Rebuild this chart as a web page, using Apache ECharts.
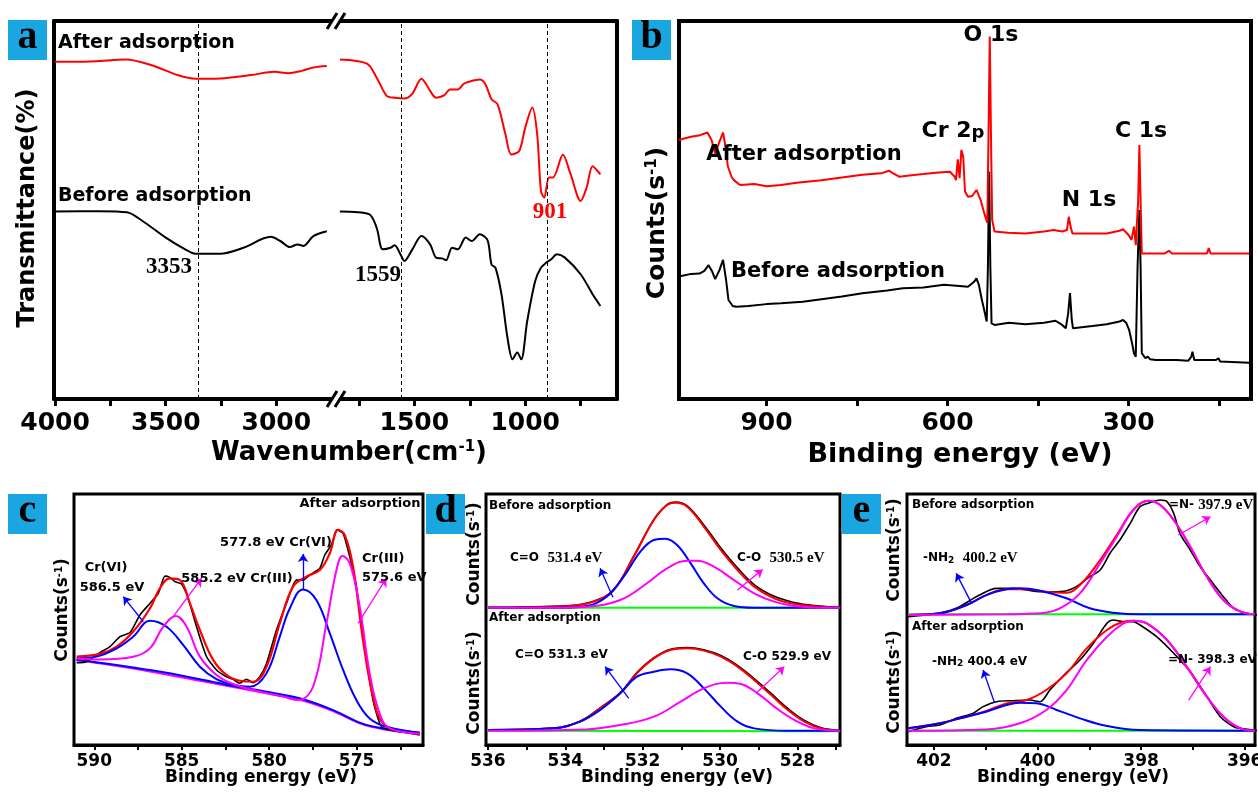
<!DOCTYPE html>
<html>
<head>
<meta charset="utf-8">
<title>FTIR / XPS</title>
<script src="https://cdn.jsdelivr.net/npm/echarts@6/dist/echarts.min.js"></script>
<style>
  html, body { margin: 0; padding: 0; background: #fff; }
  #chart { width: 1258px; height: 792px; }
</style>
</head>
<body>
<div id="chart"></div>
<script>
// ---- data ----
// (a) FTIR, [wavenumber, transmittance (arb.)], split at the axis break
const ftirAfterHigh = [[4000, 89.2], [3886, 89.2], [3675, 89.8], [3605, 89.0], [3535, 87.7], [3447, 85.7], [3365, 84.7], [3254, 84.8], [3114, 85.7], [3009, 86.6], [2947, 86.2], [2886, 86.8], [2833, 87.7], [2772, 88.1]]
const ftirBeforeHigh = [[4000, 49.6], [3798, 49.7], [3675, 49.4], [3605, 47.1], [3500, 42.7], [3412, 39.6], [3365, 38.4], [3254, 38.4], [3149, 40.0], [3026, 42.9], [2982, 41.8], [2939, 40.2], [2904, 40.9], [2877, 40.5], [2833, 43.1], [2772, 44.4]]
const ftirAfterLow = [[1836, 89.8], [1714, 88.7], [1670, 85.0], [1625, 80.2], [1589, 79.7], [1545, 79.5], [1509, 80.8], [1468, 84.7], [1446, 83.2], [1429, 81.5], [1402, 79.7], [1366, 80.3], [1339, 81.9], [1304, 81.9], [1277, 83.4], [1250, 84.0], [1205, 84.5], [1179, 83.2], [1152, 79.3], [1125, 78.0], [1089, 70.0], [1063, 64.7], [1027, 65.6], [1000, 71.8], [968, 77.1], [946, 70.0], [929, 55.0], [914, 53.3], [893, 58.6], [875, 58.6], [830, 64.6], [795, 59.4], [750, 52.4], [723, 55.9], [696, 61.6], [661, 59.4]]
const ftirBeforeLow = [[1836, 49.6], [1705, 48.9], [1670, 45.3], [1643, 39.6], [1607, 40.0], [1589, 40.7], [1563, 38.3], [1545, 36.5], [1509, 39.6], [1468, 43.1], [1429, 40.9], [1402, 37.4], [1375, 37.2], [1357, 36.7], [1330, 40.0], [1304, 39.6], [1268, 42.7], [1241, 41.8], [1205, 43.6], [1170, 42.0], [1152, 35.6], [1134, 34.7], [1107, 27.7], [1080, 16.2], [1057, 10.5], [1036, 12.3], [1018, 10.5], [991, 20.6], [955, 31.2], [929, 34.7], [905, 36.1], [884, 36.9], [857, 38.3], [821, 37.4], [750, 33.0], [696, 27.7], [661, 24.6]]
const ftirMarks = [3353, 1559, 901]
const ftirTicksHigh = [3000, 3250, 3500, 3750, 4000]
const ftirLabelsHigh = [3000, 3500, 4000]
const ftirTicksLow = [750, 1000, 1250, 1500, 1750]
const ftirLabelsLow = [1000, 1500]

// (b) XPS survey, [binding energy, counts (arb.)]
const surveyAfter = [[1045, 68.5], [1035, 69.0], [1025, 69.4], [1010, 69.8], [998, 70.5], [991, 68.5], [985, 64.8], [979, 67.6], [972, 70.5], [968, 66.8], [964, 61.5], [958, 58.8], [954, 57.9], [944, 56.6], [920, 56.9], [900, 56.3], [876, 56.6], [850, 57.2], [809, 57.9], [775, 58.6], [741, 59.3], [710, 59.7], [697, 60.4], [690, 59.7], [680, 58.8], [660, 59.2], [640, 59.5], [615, 59.9], [596, 60.1], [588, 58.8], [586, 57.9], [583, 63.4], [580, 58.4], [577, 65.9], [574, 64.1], [571, 54.9], [566, 53.5], [559, 53.7], [552, 55.3], [545, 52.6], [539, 49.1], [534, 46.6], [532, 70.3], [530, 95.9], [528, 70.3], [526, 47.4], [522, 44.3], [500, 44.0], [471, 43.8], [440, 44.3], [424, 44.7], [410, 44.3], [402, 44.7], [399, 48.2], [396, 45.6], [393, 43.8], [360, 43.8], [336, 43.8], [315, 44.5], [309, 44.9], [300, 43.4], [295, 42.1], [291, 45.6], [288, 40.7], [284, 52.6], [282, 67.2], [280, 52.6], [278, 38.5], [269, 38.5], [240, 38.5], [233, 39.2], [228, 38.5], [170, 38.5], [167, 39.9], [164, 38.5], [100, 38.5]]
const surveyBefore = [[1045, 32.4], [1025, 33.1], [1011, 33.2], [1003, 33.9], [996, 35.4], [990, 33.7], [985, 31.7], [978, 34.1], [972, 36.8], [967, 31.5], [963, 26.2], [956, 24.6], [950, 24.4], [930, 24.6], [900, 25.1], [876, 25.3], [840, 25.7], [809, 26.4], [775, 27.1], [741, 28.0], [700, 28.7], [674, 29.3], [640, 29.5], [606, 30.2], [580, 29.9], [566, 29.7], [556, 31.0], [552, 31.9], [548, 30.2], [543, 26.2], [538, 22.7], [535, 20.5], [533, 35.0], [531, 60.1], [529, 35.0], [527, 20.0], [522, 19.6], [498, 20.2], [471, 19.8], [440, 20.2], [421, 20.7], [410, 19.6], [404, 18.7], [400, 22.7], [397, 28.0], [394, 20.9], [392, 18.7], [360, 19.3], [336, 19.8], [315, 20.5], [309, 20.9], [304, 20.2], [299, 18.3], [294, 14.7], [291, 12.1], [288, 11.2], [285, 35.0], [282, 50.0], [280, 35.0], [278, 12.1], [272, 10.8], [268, 11.2], [264, 10.5], [255, 10.3], [220, 10.3], [201, 10.1], [196, 11.2], [194, 12.5], [191, 10.3], [188, 9.9], [155, 10.3], [151, 10.8], [148, 9.9], [100, 9.6]]
const surveyTicks = [150, 300, 450, 600, 750, 900]
const surveyLabels = [300, 600, 900]

// (c) Cr 2p after adsorption
const cr2pRaw = [[591.01, 32.8], [590.44, 33.2], [589.68, 36.8], [589.10, 39.2], [588.53, 43.2], [587.96, 44.8], [587.39, 51.8], [586.82, 56.4], [586.34, 60.4], [585.96, 67.3], [585.68, 66.8], [585.39, 65.1], [585.01, 64.1], [584.63, 58.4], [584.15, 47.1], [583.58, 35.2], [583.01, 29.9], [582.44, 27.2], [582.06, 26.2], [581.68, 24.6], [581.30, 26.2], [580.91, 24.8], [580.53, 27.2], [580.15, 32.5], [579.58, 45.8], [579.01, 56.4], [578.44, 65.7], [578.06, 65.7], [577.68, 67.7], [577.10, 70.4], [576.82, 75.7], [576.44, 79.7], [576.11, 85.7], [575.77, 84.3], [575.39, 75.0], [575.01, 63.1], [574.63, 43.2], [574.06, 17.9], [573.58, 7.3], [572.91, 5.7], [572.15, 4.9], [571.39, 4.0]]
const cr2pFit = [[591.01, 35.2], [589.68, 36.3], [588.72, 39.2], [587.77, 45.2], [586.82, 54.4], [586.25, 62.4], [585.68, 66.4], [585.10, 65.7], [584.53, 56.4], [583.96, 45.8], [583.20, 33.9], [582.44, 27.9], [581.68, 25.6], [580.91, 25.2], [580.15, 31.2], [579.39, 48.5], [578.63, 63.1], [577.87, 67.1], [577.10, 69.7], [576.53, 76.4], [576.06, 85.7], [575.68, 83.7], [575.20, 71.0], [574.63, 41.8], [574.06, 19.3], [573.49, 8.6], [572.53, 5.7], [571.39, 4.4]]
const cr2pCr6 = [[591.01, 34.5], [589.87, 35.2], [588.72, 38.5], [587.77, 43.2], [586.82, 49.5], [585.87, 47.1], [584.91, 39.8], [583.96, 31.2], [583.01, 26.2], [582.06, 23.9], [581.10, 23.2], [580.15, 28.6], [579.39, 43.2], [578.82, 54.4], [578.06, 62.0], [577.30, 57.8], [576.53, 44.5], [575.77, 29.9], [575.01, 17.9], [574.25, 10.6], [573.30, 7.3], [571.39, 4.9]]
const cr2pCr3 = [[591.01, 34.5], [589.68, 34.1], [587.77, 35.2], [586.82, 38.5], [586.06, 47.1], [585.33, 51.4], [584.72, 47.1], [583.96, 35.2], [583.01, 27.9], [582.06, 24.3], [580.91, 21.9], [579.20, 19.3], [578.34, 17.9], [577.49, 23.2], [576.72, 48.5], [576.15, 69.7], [575.81, 75.3], [575.39, 72.4], [574.82, 55.1], [574.25, 28.6], [573.68, 12.6], [573.10, 6.6], [571.39, 4.6]]
const cr2pBgBlue = [[591.01, 33.9], [589.68, 32.8], [587.77, 30.9], [585.87, 28.8], [583.96, 26.2], [582.06, 23.5], [580.15, 21.2], [578.25, 18.6], [576.34, 13.9], [574.82, 8.9], [573.49, 6.6], [571.39, 4.9]]
const cr2pBgPink = [[591.01, 33.9], [587.77, 30.5], [583.96, 25.6], [580.15, 20.6], [578.25, 18.0], [576.34, 13.5], [574.82, 8.6], [573.49, 6.3], [571.39, 4.6]]
const cr2pTicks = [572.5, 575, 577.5, 580, 582.5, 585, 587.5, 590]
const cr2pLabels = [575, 580, 585, 590]
// arrows [[from], [to]]
const cr2pArrowsBlue = [[[587.2, 49.1], [588.34, 59.1]], [[578.06, 62.0], [578.06, 76.1]]]
const cr2pArrowsPink = [[[585.49, 51.1], [583.87, 66.4]], [[574.91, 48.5], [573.30, 66.4]]]

// (d) O 1s
const o1sBeforeBg = [[536, 8.3], [526.9, 8.3]]
const o1sBeforeRaw = [[536, 8.6], [533.88, 10.0], [533.27, 13.5], [532.75, 23.0], [532.23, 50.0], [531.71, 79.5], [531.37, 91.5], [531.15, 93.5], [530.85, 90.5], [530.42, 75.0], [529.98, 56.5], [529.55, 40.5], [529.12, 27.0], [528.60, 17.5], [528.08, 12.5], [527.56, 10.0], [526.91, 8.6]]
const o1sBeforeFit = [[536, 8.3], [533.88, 9.7], [533.27, 13.2], [532.75, 22.6], [532.23, 49.5], [531.71, 79.0], [531.37, 91.1], [531.15, 93.0], [530.85, 89.8], [530.42, 73.7], [529.98, 54.8], [529.55, 38.7], [529.12, 25.3], [528.60, 15.9], [528.08, 11.3], [527.39, 9.1], [526.91, 8.3]]
const o1sBeforeCdO = [[536, 8.3], [534.14, 8.3], [533.45, 9.7], [532.93, 17.2], [532.49, 33.3], [532.06, 53.5], [531.71, 62.9], [531.41, 64.0], [531.11, 58.9], [530.76, 44.1], [530.42, 28.0], [530.07, 15.9], [529.64, 9.7], [529.12, 8.3], [526.91, 8.3]]
const o1sBeforeCO = [[536, 8.3], [534.31, 8.3], [533.45, 9.1], [532.58, 14.5], [531.89, 28.0], [531.37, 40.1], [530.85, 46.2], [530.59, 46.2], [530.16, 41.4], [529.64, 30.6], [529.12, 19.9], [528.60, 13.2], [528.08, 9.7], [527.39, 8.3], [526.91, 8.3]]
const o1sAfterBg = [[536, 11.3], [526.9, 10.8]]
const o1sAfterRaw = [[536, 11.8], [534.31, 13.3], [533.62, 18.8], [533.10, 29.3], [532.58, 41.2], [532.15, 57.0], [531.71, 68.7], [531.28, 75.4], [530.85, 76.8], [530.42, 75.0], [529.98, 70.4], [529.55, 62.7], [529.12, 52.3], [528.68, 40.6], [528.25, 28.8], [527.82, 19.3], [527.39, 13.6], [526.91, 11.6]]
const o1sAfterFit = [[536, 11.8], [534.31, 13.1], [533.62, 18.4], [533.10, 28.9], [532.58, 40.7], [532.15, 56.4], [531.71, 68.2], [531.28, 74.8], [530.85, 76.1], [530.42, 74.3], [529.98, 69.6], [529.55, 61.7], [529.12, 51.2], [528.68, 39.4], [528.25, 27.6], [527.82, 18.4], [527.39, 13.1], [526.91, 11.3]]
const o1sAfterCdO = [[536, 11.8], [534.31, 13.1], [533.62, 18.4], [533.10, 27.6], [532.58, 40.7], [532.15, 53.8], [531.71, 57.7], [531.28, 59.6], [530.85, 56.4], [530.42, 44.6], [529.98, 30.2], [529.55, 18.4], [529.12, 13.1], [528.25, 11.3], [526.91, 11.3]]
const o1sAfterCO = [[536, 11.3], [533.45, 12.3], [532.58, 15.7], [531.71, 22.3], [531.02, 34.1], [530.42, 44.6], [529.81, 49.1], [529.46, 48.0], [529.03, 40.7], [528.60, 30.2], [528.08, 19.7], [527.56, 13.1], [526.91, 11.3]]
const o1sTicks = [527, 528, 529, 530, 531, 532, 533, 534, 535, 536]
const o1sLabels = [528, 530, 532, 534, 536]
const o1sBeforeArrowBlue = [[532.77, 16.7], [533.10, 40.1]]
const o1sBeforeArrowPink = [[529.55, 22.6], [528.90, 39.2]]
const o1sAfterArrowBlue = [[532.36, 36.7], [532.97, 61.7]]
const o1sAfterArrowPink = [[529.07, 40.7], [528.34, 61.7]]

// (e) N 1s
const n1sBeforeBg = [[402.5, 3.0], [395.8, 3.0]]
const n1sBeforeRaw = [[402.50, 1.1], [401.89, 3.8], [401.57, 7.8], [401.12, 18.5], [400.79, 23.9], [400.47, 23.9], [400.21, 22.6], [399.95, 21.2], [399.70, 21.2], [399.44, 22.0], [399.25, 25.3], [398.99, 33.3], [398.79, 38.7], [398.60, 52.2], [398.41, 62.9], [398.21, 76.3], [398.02, 89.8], [397.83, 93.0], [397.63, 95.2], [397.50, 93.8], [397.37, 84.4], [397.25, 68.3], [397.05, 54.8], [396.86, 41.4], [396.66, 30.6], [396.41, 17.2], [396.21, 7.8], [395.95, 3.8], [395.73, 2.4]]
const n1sBeforeFit = [[402.50, 2.4], [401.89, 3.8], [401.37, 10.5], [400.99, 18.5], [400.60, 23.1], [400.21, 23.1], [399.83, 21.2], [399.44, 20.4], [399.18, 26.6], [398.79, 46.8], [398.47, 66.9], [398.15, 87.1], [397.86, 94.6], [397.63, 91.1], [397.37, 79.0], [397.05, 57.5], [396.73, 33.3], [396.41, 14.5], [396.08, 5.1], [395.8, 3.0]]
const n1sBeforeNH2 = [[402.50, 2.4], [401.89, 3.8], [401.37, 10.5], [400.99, 18.5], [400.60, 23.1], [400.34, 23.9], [399.95, 22.0], [399.44, 15.9], [398.99, 7.8], [398.54, 4.3], [398.02, 3.0], [395.8, 3.0]]
const n1sBeforeN = [[402.50, 2.4], [400.60, 3.0], [399.95, 3.8], [399.57, 7.8], [399.18, 19.9], [398.79, 44.1], [398.47, 65.6], [398.15, 87.1], [397.86, 94.6], [397.63, 91.1], [397.37, 79.0], [397.05, 57.5], [396.73, 33.3], [396.41, 14.5], [396.08, 5.1], [395.8, 3.0]]
const n1sAfterBg = [[402.5, 11.3], [395.8, 11.3]]
const n1sAfterRaw = [[402.50, 10.5], [402.15, 14.4], [401.89, 15.7], [401.57, 21.0], [401.25, 24.9], [401.05, 30.2], [400.79, 34.1], [400.47, 34.9], [400.15, 35.4], [399.95, 34.1], [399.76, 43.3], [399.44, 57.0], [399.18, 66.9], [398.92, 80.1], [398.66, 95.8], [398.54, 98.4], [398.34, 97.1], [398.15, 97.1], [398.02, 94.5], [397.70, 85.3], [397.37, 72.2], [397.05, 57.7], [396.73, 38.1], [396.47, 22.3], [396.21, 14.4], [396.08, 13.1], [395.73, 11.3]]
const n1sAfterFit = [[402.50, 13.1], [401.89, 17.1], [401.37, 22.3], [400.99, 26.8], [400.60, 32.8], [400.21, 35.4], [399.83, 43.3], [399.44, 56.4], [399.05, 76.1], [398.66, 90.6], [398.34, 97.1], [398.15, 97.9], [397.89, 95.8], [397.50, 82.7], [397.12, 61.7], [396.73, 38.1], [396.41, 22.3], [396.08, 13.1], [395.8, 11.3]]
const n1sAfterNH2 = [[402.50, 13.1], [401.89, 17.1], [401.37, 22.3], [400.99, 26.2], [400.60, 31.5], [400.34, 33.3], [400.02, 32.8], [399.63, 27.6], [399.18, 21.0], [398.66, 15.0], [398.02, 11.8], [395.8, 11.3]]
const n1sAfterN = [[402.50, 11.3], [400.99, 12.3], [400.34, 17.1], [399.83, 27.6], [399.44, 43.3], [399.05, 66.9], [398.66, 85.3], [398.34, 95.8], [398.15, 97.9], [397.89, 95.8], [397.50, 82.7], [397.12, 61.7], [396.73, 38.1], [396.41, 22.3], [396.08, 13.1], [395.8, 11.3]]
const n1sTicks = [396, 397, 398, 399, 400, 401, 402]
const n1sLabels = [396, 398, 400, 402]
const n1sBeforeArrowBlue = [[401.28, 12.4], [401.57, 36.0]]
const n1sBeforeArrowPink = [[397.28, 66.9], [396.66, 81.7]]
const n1sAfterArrowBlue = [[400.83, 33.3], [401.05, 59.1]]
const n1sAfterArrowPink = [[397.08, 35.4], [396.66, 61.7]]

// ---- styling helpers ----
const SANS = '"DejaVu Sans", Arial, sans-serif'
const SERIF = '"Liberation Serif", "Times New Roman", serif'
const BLUE = '#0000FF', PINK = '#FF00FF', RED = '#FF0000', GREEN = '#00FF00', BLACK = '#000000'
const TAG = '#1AA6E0'

const chart = echarts.init(document.getElementById('chart'))

function grid(left, top, width, height, border) {
    return {
        left, top, width, height, containLabel: false, outerBoundsMode: 'none',
        show: !!border, borderColor: '#000', borderWidth: border || 0, backgroundColor: 'transparent'
    }
}

function xBottom(gridIndex, min, max, ticks, labels, big) {
    return {
        type: 'value', gridIndex, min, max, inverse: true, position: 'bottom',
        axisLine: { show: true, onZero: false, lineStyle: { color: '#000', width: big ? 4 : 3 } },
        axisTick: { show: true, inside: false, length: big ? 7 : 5, customValues: ticks, lineStyle: { color: '#000', width: big ? 3 : 2 } },
        axisLabel: {
            show: true, customValues: labels, margin: big ? 12 : 8, color: '#000', fontFamily: SANS, fontWeight: 'bold', fontSize: big ? 25 : 17,
            formatter: v => String(v)
        },
        splitLine: { show: false }
    }
}

function xTopLine(gridIndex, min, max) {
    return {
        type: 'value', gridIndex, min, max, inverse: true, position: 'top',
        axisLine: { show: true, onZero: false, lineStyle: { color: '#000', width: 4 } },
        axisTick: { show: false }, axisLabel: { show: false }, splitLine: { show: false }
    }
}

function xHidden(gridIndex, min, max) {
    return { type: 'value', gridIndex, min, max, inverse: true, show: false, splitLine: { show: false } }
}

function yAxis(gridIndex, side) {
    return {
        type: 'value', gridIndex, min: 0, max: 100, position: side || 'left', show: !!side,
        axisLine: { show: !!side, onZero: false, lineStyle: { color: '#000', width: 4 } },
        axisTick: { show: false }, axisLabel: { show: false }, splitLine: { show: false }
    }
}

function curve(xi, yi, data, color, width, smooth, extra) {
    return Object.assign({
        type: 'line', xAxisIndex: xi, yAxisIndex: yi, data, symbol: 'none', showSymbol: false,
        smooth: smooth, silent: true, animation: false, clip: true,
        lineStyle: { color, width }, itemStyle: { color }
    }, extra || {})
}

function arrows(list, color) {
    return {
        silent: true, animation: false, symbol: ['none', 'arrow'], symbolSize: 8,
        label: { show: false }, lineStyle: { color, width: 1.3, type: 'solid' },
        data: list.map(a => [{ coord: a[0] }, { coord: a[1] }])
    }
}

function dashes(values) {
    return {
        silent: true, animation: false, symbol: 'none', label: { show: false },
        lineStyle: { color: '#000', width: 1, type: [4, 3] },
        data: values.map(v => ({ xAxis: v }))
    }
}

function txt(x, y, text, size, opts) {
    opts = opts || {}
    return {
        type: 'text', x, y, z: 100, silent: true, rotation: opts.rot || 0,
        style: {
            text, fill: opts.color || '#000', align: opts.align || 'left', verticalAlign: 'middle',
            fontFamily: opts.family || SANS, fontWeight: 'bold', fontSize: size, rich: opts.rich
        }
    }
}

function tag(x, y, ch) {
    return [
        { type: 'rect', z: 100, silent: true, shape: { x, y, width: 39, height: 40 }, style: { fill: TAG } },
        txt(x + 19.5, y + 18, ch, 40, { align: 'center', family: SERIF })
    ]
}

function breakMark(x, y) {
    return [
        { type: 'polygon', z: 100, silent: true, shape: { points: [[x - 8, y + 8], [x + 2, y - 8], [x + 9, y - 8], [x - 1, y + 8]] }, style: { fill: '#fff' } },
        { type: 'line', z: 101, silent: true, shape: { x1: x - 9, y1: y + 8, x2: x + 1, y2: y - 8 }, style: { stroke: '#000', lineWidth: 3 } },
        { type: 'line', z: 101, silent: true, shape: { x1: x - 1, y1: y + 8, x2: x + 9, y2: y - 8 }, style: { stroke: '#000', lineWidth: 3 } }
    ]
}

const supStyle = (size) => ({ sup: { fontSize: size, fontWeight: 'bold', fontFamily: SANS, verticalAlign: 'top' } })
const richSerif = (size) => ({ s: { fontSize: size, fontWeight: 'bold', fontFamily: SERIF } })
const subStyle = (size) => ({ sub: { fontSize: size, fontWeight: 'bold', fontFamily: SANS, verticalAlign: 'bottom' } })

// ---- option ----
const option = {
    backgroundColor: '#fff',
    animation: false,
    grid: [
        grid(54, 21, 281, 378),          // 0 a high wavenumber
        grid(335, 21, 282, 378),         // 1 a low wavenumber
        grid(679, 21, 572, 378, 4),      // 2 b
        grid(74, 494, 349, 251, 3),      // 3 c
        grid(486, 494, 354, 251, 3),     // 4 d frame
        grid(486, 494, 354, 124),        // 5 d before
        grid(486, 618, 354, 127),        // 6 d after
        grid(907, 494, 348, 251, 3),     // 7 e frame
        grid(907, 494, 348, 124),        // 8 e before
        grid(907, 618, 348, 127)         // 9 e after
    ],
    xAxis: [
        xBottom(0, 2735, 4005, ftirTicksHigh, ftirLabelsHigh, true),
        xTopLine(0, 2735, 4005),
        xBottom(1, 586, 1858, ftirTicksLow, ftirLabelsLow, true),
        xTopLine(1, 586, 1858),
        xBottom(2, 97, 1045, surveyTicks, surveyLabels, true),
        xBottom(3, 571.2, 591.16, cr2pTicks, cr2pLabels),
        xBottom(4, 526.9, 536.05, o1sTicks, o1sLabels),
        xHidden(5, 526.9, 536.05),
        xHidden(6, 526.9, 536.05),
        xBottom(7, 395.8, 402.52, n1sTicks, n1sLabels),
        xHidden(8, 395.8, 402.52),
        xHidden(9, 395.8, 402.52)
    ],
    yAxis: [
        yAxis(0, 'left'), yAxis(1, 'right'),
        yAxis(2), yAxis(3), yAxis(4), yAxis(5), yAxis(6), yAxis(7), yAxis(8), yAxis(9)
    ],
    series: [
        // a
        curve(0, 0, ftirBeforeHigh, BLACK, 2, 0.3),
        curve(0, 0, ftirAfterHigh, RED, 2, 0.3, { markLine: dashes([ftirMarks[0]]) }),
        curve(2, 1, ftirBeforeLow, BLACK, 2, 0.3),
        curve(2, 1, ftirAfterLow, RED, 2, 0.3, { markLine: dashes([ftirMarks[1], ftirMarks[2]]) }),
        // b
        curve(4, 2, surveyBefore, BLACK, 2, false),
        curve(4, 2, surveyAfter, RED, 2, false),
        // c
        curve(5, 3, cr2pBgPink, PINK, 2, 0.3),
        curve(5, 3, cr2pBgBlue, BLUE, 2, 0.3),
        curve(5, 3, cr2pRaw, BLACK, 1.6, 0.2),
        curve(5, 3, cr2pFit, RED, 2.2, 0.4),
        curve(5, 3, cr2pCr6, BLUE, 2, 0.4, { markLine: arrows(cr2pArrowsBlue, BLUE) }),
        curve(5, 3, cr2pCr3, PINK, 2, 0.4, { markLine: arrows(cr2pArrowsPink, PINK) }),
        // d
        curve(7, 5, o1sBeforeBg, GREEN, 2, false),
        curve(7, 5, o1sBeforeRaw, BLACK, 1.6, 0.4),
        curve(7, 5, o1sBeforeFit, RED, 2, 0.4),
        curve(7, 5, o1sBeforeCdO, BLUE, 2, 0.4, { markLine: arrows([o1sBeforeArrowBlue], BLUE) }),
        curve(7, 5, o1sBeforeCO, PINK, 2, 0.4, { markLine: arrows([o1sBeforeArrowPink], PINK) }),
        curve(8, 6, o1sAfterBg, GREEN, 2, false),
        curve(8, 6, o1sAfterRaw, BLACK, 1.6, 0.4),
        curve(8, 6, o1sAfterFit, RED, 2, 0.4),
        curve(8, 6, o1sAfterCdO, BLUE, 2, 0.4, { markLine: arrows([o1sAfterArrowBlue], BLUE) }),
        curve(8, 6, o1sAfterCO, PINK, 2, 0.4, { markLine: arrows([o1sAfterArrowPink], PINK) }),
        // e
        curve(10, 8, n1sBeforeBg, GREEN, 2, false),
        curve(10, 8, n1sBeforeRaw, BLACK, 1.6, 0.3),
        curve(10, 8, n1sBeforeFit, RED, 2, 0.4),
        curve(10, 8, n1sBeforeNH2, BLUE, 2, 0.4, { markLine: arrows([n1sBeforeArrowBlue], BLUE) }),
        curve(10, 8, n1sBeforeN, PINK, 2, 0.4, { markLine: arrows([n1sBeforeArrowPink], PINK) }),
        curve(11, 9, n1sAfterBg, GREEN, 2, false),
        curve(11, 9, n1sAfterRaw, BLACK, 1.6, 0.3),
        curve(11, 9, n1sAfterFit, RED, 2, 0.4),
        curve(11, 9, n1sAfterNH2, BLUE, 2, 0.4, { markLine: arrows([n1sAfterArrowBlue], BLUE) }),
        curve(11, 9, n1sAfterN, PINK, 2, 0.4, { markLine: arrows([n1sAfterArrowPink], PINK) })
    ],
    graphic: [
        ...tag(8, 20, 'a'), ...tag(632, 20, 'b'), ...tag(8, 494, 'c'), ...tag(426, 494, 'd'), ...tag(842, 494, 'e'),
        ...breakMark(336, 21), ...breakMark(336, 399),
        // a
        txt(28, 208, 'Transmittance(%)', 24, { align: 'center', rot: Math.PI / 2 }),
        txt(349, 453, 'Wavenumber(cm{sup|-1})', 26, { align: 'center', rich: supStyle(15) }),
        txt(58, 43, 'After adsorption', 19),
        txt(58, 196, 'Before adsorption', 19),
        txt(169, 267, '3353', 23, { align: 'center', family: SERIF }),
        txt(378, 275, '1559', 23, { align: 'center', family: SERIF }),
        txt(550, 212, '901', 23, { align: 'center', family: SERIF, color: RED }),
        // b
        txt(657, 223, 'Counts(s{sup|-1})', 25, { align: 'center', rot: Math.PI / 2, rich: supStyle(15) }),
        txt(960, 455, 'Binding energy (eV)', 27, { align: 'center' }),
        txt(991, 35, 'O 1s', 22, { align: 'center' }),
        txt(953, 131, 'Cr 2{p|p}', 22, { align: 'center', rich: { p: { fontSize: 18, fontWeight: 'bold', fontFamily: SANS, verticalAlign: 'bottom' } } }),
        txt(1141, 131, 'C 1s', 22, { align: 'center' }),
        txt(1089, 200, 'N 1s', 22, { align: 'center' }),
        txt(804, 155, 'After adsorption', 21, { align: 'center' }),
        txt(838, 272, 'Before adsorption', 21, { align: 'center' }),
        // c
        txt(63, 610, 'Counts(s{sup|-1})', 17, { align: 'center', rot: Math.PI / 2, rich: supStyle(10) }),
        txt(261, 778, 'Binding energy (eV)', 17, { align: 'center' }),
        txt(360, 504, 'After adsorption', 13, { align: 'center' }),
        txt(106, 568, 'Cr(VI)', 13, { align: 'center' }),
        txt(112, 588, '586.5 eV', 13, { align: 'center' }),
        txt(237, 579, '585.2 eV Cr(III)', 13, { align: 'center' }),
        txt(276, 543, '577.8 eV Cr(VI)', 13, { align: 'center' }),
        txt(362, 559, 'Cr(III)', 13),
        txt(362, 578, '575.6 eV', 13),
        // d
        txt(475, 554, 'Counts(s{sup|-1})', 17, { align: 'center', rot: Math.PI / 2, rich: supStyle(10) }),
        txt(475, 683, 'Counts(s{sup|-1})', 17, { align: 'center', rot: Math.PI / 2, rich: supStyle(10) }),
        txt(677, 778, 'Binding energy (eV)', 17, { align: 'center' }),
        txt(489, 506, 'Before adsorption', 12),
        txt(489, 618, 'After adsorption', 12),
        txt(510, 558, 'C=O  {s|531.4 eV}', 12, { rich: richSerif(15) }),
        txt(737, 558, 'C-O  {s|530.5 eV}', 12, { rich: richSerif(15) }),
        txt(515, 655, 'C=O 531.3 eV', 12),
        txt(743, 657, 'C-O 529.9 eV', 12),
        // e
        txt(895, 550, 'Counts(s{sup|-1})', 17, { align: 'center', rot: Math.PI / 2, rich: supStyle(10) }),
        txt(895, 682, 'Counts(s{sup|-1})', 17, { align: 'center', rot: Math.PI / 2, rich: supStyle(10) }),
        txt(1073, 778, 'Binding energy (eV)', 17, { align: 'center' }),
        txt(912, 505, 'Before adsorption', 12),
        txt(1169, 505, '=N- {s|397.9 eV}', 12, { rich: richSerif(15) }),
        txt(923, 558, '-NH{sub|2}  {s|400.2 eV}', 12, { rich: Object.assign(subStyle(9), richSerif(15)) }),
        txt(912, 627, 'After adsorption', 12),
        txt(932, 662, '-NH{sub|2} 400.4 eV', 12, { rich: subStyle(9) }),
        txt(1168, 660, '=N- 398.3 eV', 12)
    ]
}

chart.setOption(option)
</script>
</body>
</html>
